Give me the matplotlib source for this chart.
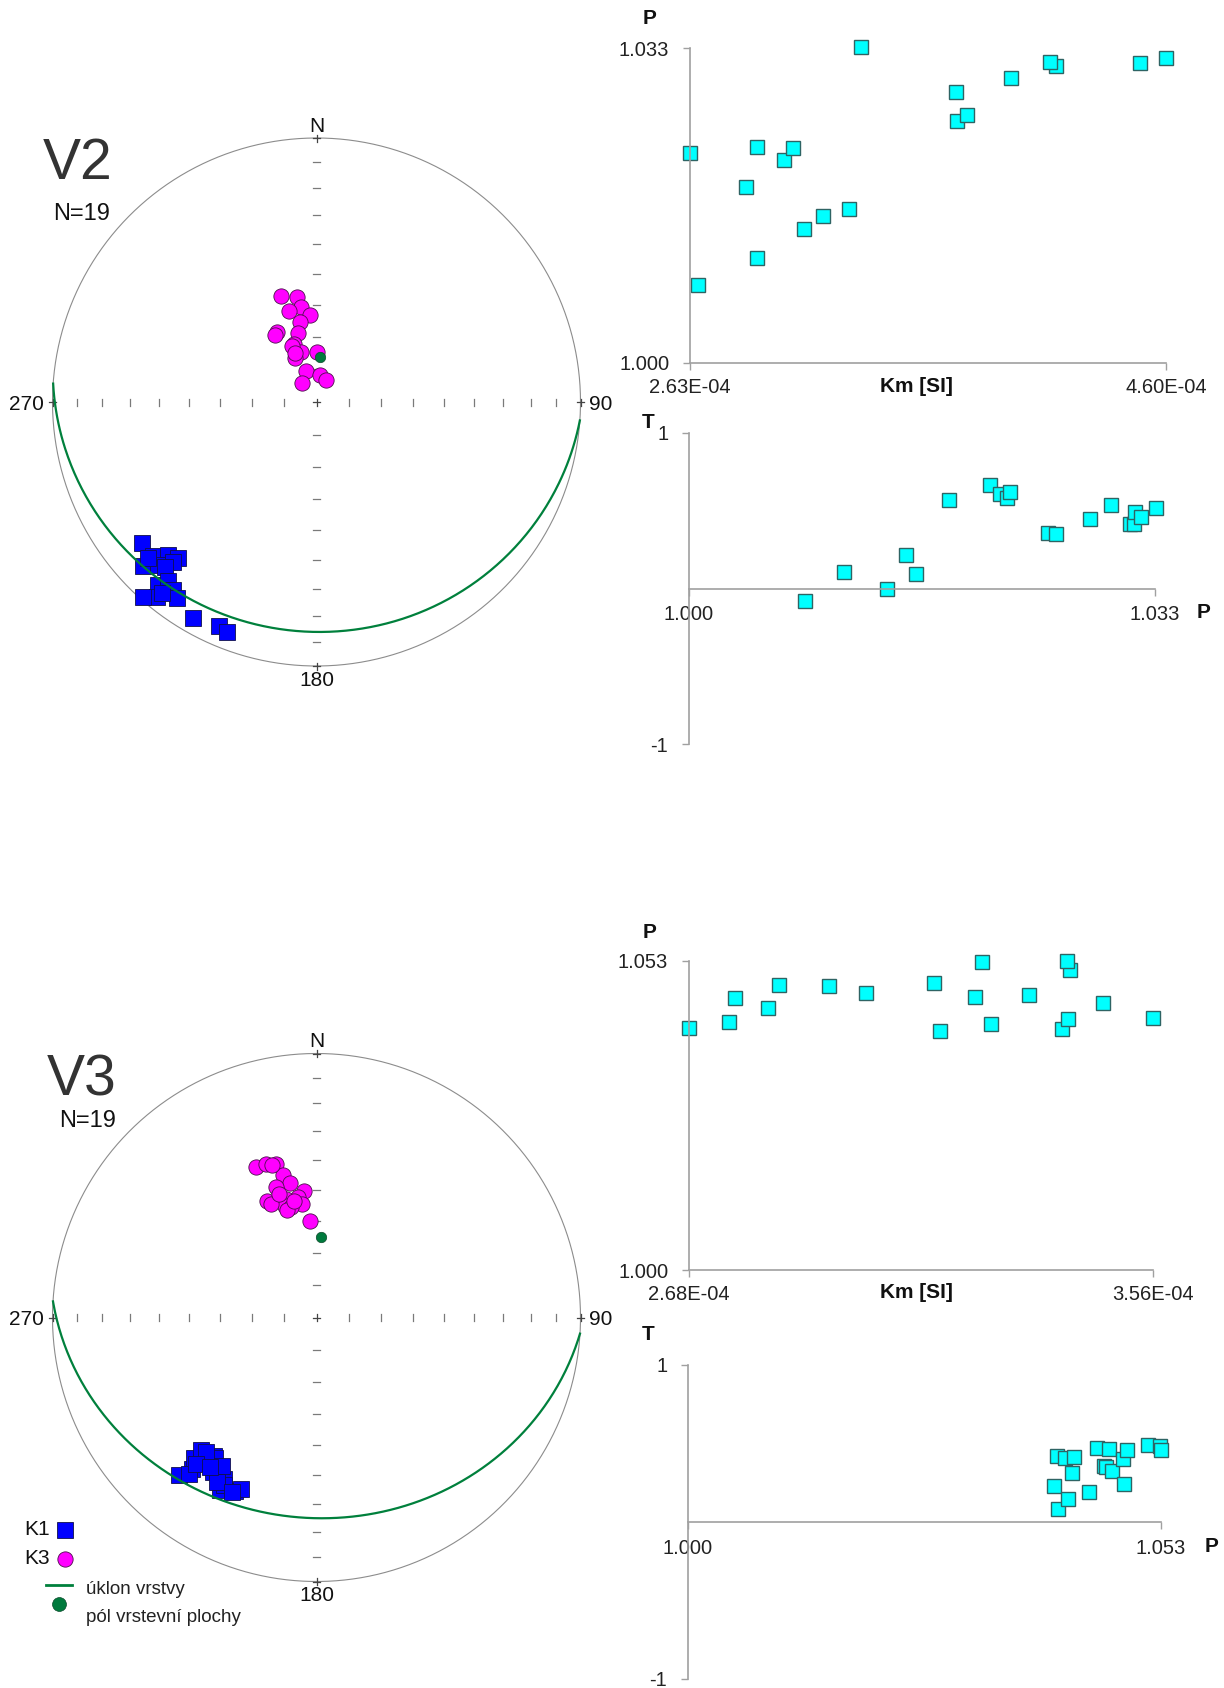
import numpy as np
import matplotlib
matplotlib.use('Agg')
import matplotlib.pyplot as plt

plt.rcParams['font.family'] = ['Liberation Sans', 'DejaVu Sans']

W, H = 1224, 1688

# --- stereonet data: trend / plunge (deg), lower hemisphere ---
v2_k1_trend = [231.2, 226.7, 224.0, 221.5, 226.6, 224.2, 221.9, 222.6, 221.0, 219.7,
               219.4, 221.6, 217.3, 215.4, 209.8, 203.5, 201.3, 227.1, 219.0]
v2_k1_plunge = [16.1, 16.1, 20.4, 22.1, 10.6, 15.1, 19.9, 16.3, 9.1, 13.1,
                5.2, 1.3, 11.5, 10.0, 6.6, 8.3, 7.3, 14.1, 7.6]
v2_k3_trend = [341.7, 349.6, 351.0, 343.1, 356.0, 348.3, 330.7, 328.0, 344.8, 338.6,
               343.0, 334.5, 0.0, 340.8, 8.2, 24.3, 322.4, 336.4, 336.0]
v2_k3_plunge = [55.1, 56.7, 60.0, 60.4, 63.0, 64.6, 65.1, 65.6, 67.9, 70.8,
                73.8, 74.9, 74.6, 79.9, 81.5, 82.7, 82.8, 71.3, 73.6]
v2_bed_dipdir, v2_bed_dip = 184.0, 14.0

v3_k1_trend = [221.0, 219.4, 221.2, 221.2, 216.6, 215.8, 213.9, 209.9, 212.5, 209.1,
               205.1, 203.9, 208.9, 219.3, 219.5, 211.1, 219.6, 205.7, 215.3]
v3_k1_plunge = [21.9, 26.7, 30.1, 33.8, 35.1, 34.5, 30.1, 30.2, 33.9, 26.0,
                28.4, 29.7, 28.2, 24.5, 34.3, 28.0, 28.9, 27.4, 31.1]
v3_k3_trend = [338.0, 341.9, 345.3, 346.7, 348.7, 342.6, 354.4, 337.0, 345.4, 351.4,
               352.5, 344.2, 346.8, 344.6, 356.2, 338.0, 343.0, 349.0, 343.7]
v3_k3_plunge = [38.3, 38.9, 39.6, 43.7, 46.9, 47.0, 50.1, 50.4, 51.6, 51.9,
                54.2, 53.7, 54.7, 55.2, 60.0, 51.6, 49.5, 52.8, 39.8]
v3_bed_dipdir, v3_bed_dip = 183.5, 25.0

# --- scalar data (Km in 1e-4 SI) ---
v2_km = [2.662, 2.908, 3.100, 3.181, 3.287, 2.863, 3.018, 2.632, 3.057, 2.909,
         3.733, 3.775, 3.731, 3.958, 4.144, 4.492, 4.121, 4.600, 3.336]
v2_p = [1.0082, 1.0110, 1.0140, 1.0154, 1.0161, 1.0184, 1.0213, 1.0220, 1.0225, 1.0227,
        1.0254, 1.0260, 1.0284, 1.0299, 1.0312, 1.0315, 1.0316, 1.0320, 1.0331]
v2_t = [-0.082, 0.106, -0.004, 0.218, 0.093, 0.567, 0.668, 0.608, 0.584, 0.621,
        0.358, 0.351, 0.446, 0.537, 0.412, 0.412, 0.489, 0.461, 0.517]

v3_km = [3.156, 3.388, 2.680, 3.253, 2.756, 3.398, 3.560, 2.830, 3.466, 2.767,
         3.223, 3.325, 3.015, 2.946, 2.850, 3.145, 3.402, 3.235, 3.396]
v3_p = [1.0410, 1.0413, 1.0415, 1.0422, 1.0426, 1.0430, 1.0432, 1.0449, 1.0458, 1.0466,
        1.0468, 1.0472, 1.0475, 1.0487, 1.0488, 1.0492, 1.0515, 1.0529, 1.0530]
v3_t = [0.232, 0.420, 0.084, 0.409, 0.148, 0.314, 0.414, 0.188, 0.473, 0.357,
        0.350, 0.466, 0.327, 0.403, 0.245, 0.460, 0.489, 0.485, 0.458]

v2_km_ticks = [2.63e-4, 4.60e-4]
v2_km_labels = ['2.63E-04', '4.60E-04']
v2_p_ticks = [1.000, 1.033]
v2_p_labels = ['1.000', '1.033']
v3_km_ticks = [2.68e-4, 3.56e-4]
v3_km_labels = ['2.68E-04', '3.56E-04']
v3_p_ticks = [1.000, 1.053]
v3_p_labels = ['1.000', '1.053']
t_ticks = [-1, 1]
t_labels = ['-1', '1']

BLUE = '#0000ff'
MAGENTA = '#ff00ff'
GREEN = '#00803c'
CYAN = '#00ffff'
GREY = '#8c8c8c'


def px(x, y):
    return x / W, 1 - y / H


def project(trend, plunge):
    t = np.radians(np.asarray(trend, float))
    p = np.radians(np.asarray(plunge, float))
    r = np.sqrt(2) * np.sin((np.pi / 2 - p) / 2)
    return r * np.sin(t), r * np.cos(t)


def great_circle(dipdir, dip, n=361):
    s = np.radians(dipdir - 90)
    dd = np.radians(dipdir)
    d = np.radians(dip)
    a = np.linspace(0, np.pi, n)
    e = np.cos(a) * np.sin(s) + np.sin(a) * np.sin(dd) * np.cos(d)
    nn = np.cos(a) * np.cos(s) + np.sin(a) * np.cos(dd) * np.cos(d)
    dn = np.sin(a) * np.sin(d)
    trend = np.degrees(np.arctan2(e, nn))
    plunge = np.degrees(np.arcsin(np.clip(dn, -1, 1)))
    return project(trend, plunge)


def stereonet(fig, cx, cy, R, k1, k3, bed):
    a = 1.19
    x0, y0 = px(cx - a * R, cy + a * R)
    ax = fig.add_axes([x0, y0, 2 * a * R / W, 2 * a * R / H])
    ax.set_xlim(-a, a)
    ax.set_ylim(-a, a)
    ax.axis('off')

    th = np.linspace(0, 2 * np.pi, 400)
    ax.plot(np.cos(th), np.sin(th), color=GREY, lw=0.8, zorder=1)

    h = 3.5 / R
    tc = '#7a7a7a'
    for k in range(1, 9):
        rk = np.sqrt(2) * np.sin(np.radians(5 * k))
        for sgn in (-1, 1):
            ax.plot([sgn * rk, sgn * rk], [-h, h], color=tc, lw=0.9, zorder=1)
            ax.plot([-h, h], [sgn * rk, sgn * rk], color=tc, lw=0.9, zorder=1)
    # centre and cardinal crosses
    for (x, y) in [(0, 0), (0, 1), (0, -1), (1, 0), (-1, 0)]:
        ax.plot([x - h, x + h], [y, y], color='#444444', lw=0.9, zorder=1)
        ax.plot([x, x], [y - h, y + h], color='#444444', lw=0.9, zorder=1)

    fs = 15
    ax.text(0, 1.008, 'N', ha='center', va='bottom', fontsize=fs, color='#111111')
    ax.text(-1.032, -0.008, '270', ha='right', va='center', fontsize=fs, color='#111111')
    ax.text(1.032, -0.008, '90', ha='left', va='center', fontsize=fs, color='#111111')
    ax.text(0, -1.018, '180', ha='center', va='top', fontsize=fs, color='#111111')

    x, y = project(*k1)
    ax.plot(x, y, 's', ms=11, mfc=BLUE, mec='#10104a', mew=0.6, ls='none', zorder=3)
    x, y = project(*k3)
    ax.plot(x, y, 'o', ms=11, mfc=MAGENTA, mec='#4a104a', mew=0.6, ls='none', zorder=3)

    dipdir, dip = bed
    gx, gy = great_circle(dipdir, dip)
    ax.plot(gx, gy, color=GREEN, lw=1.6, zorder=4)
    px_, py_ = project(dipdir - 180, 90 - dip)
    ax.plot(px_, py_, 'o', ms=7.5, mfc='#007a3d', mec='#0a4a2a', mew=0.5, zorder=5)
    return ax


def scatter_panel(fig, x0, x1, ytop, ybot, xlim, ylim, xticks, xlabels,
                  yticks, ylabels, xs, ys, zero_axis=False):
    l, b = px(x0, ybot)
    ax = fig.add_axes([l, b, (x1 - x0) / W, (ybot - ytop) / H])
    ax.set_xlim(*xlim)
    ax.set_ylim(*ylim)
    for s in ('top', 'right'):
        ax.spines[s].set_visible(False)
    for s in ('left', 'bottom'):
        ax.spines[s].set_color('#a0a0a0')
        ax.spines[s].set_linewidth(1.2)
    if zero_axis:
        ax.spines['bottom'].set_position(('data', 0))
    ax.set_xticks(xticks)
    ax.set_xticklabels(xlabels)
    ax.set_yticks(yticks)
    ax.set_yticklabels(ylabels)
    ax.tick_params(axis='both', direction='out', length=5, width=1, color='#a0a0a0',
                   labelsize=14.5, labelcolor='#222222')
    ax.tick_params(axis='y', pad=10)
    ax.tick_params(axis='x', pad=6 if not zero_axis else 7)
    ax.patch.set_visible(False)
    ax.plot(xs, ys, 's', ms=10.5, mfc=CYAN, mec='#2e6464', mew=1.0, ls='none', clip_on=False)
    return ax


fig = plt.figure(figsize=(W / 100, H / 100), dpi=100)
bold = dict(fontsize=15, fontweight='bold', ha='center', va='center', color='#111111')

# ---------------- V2 ----------------
stereonet(fig, 316.5, 402, 264, (v2_k1_trend, v2_k1_plunge), (v2_k3_trend, v2_k3_plunge),
          (v2_bed_dipdir, v2_bed_dip))
fig.text(*px(43, 179), 'V2', fontsize=41, color='#333333', ha='left', va='baseline')
fig.text(*px(53, 220), 'N=19', fontsize=17, color='#111111', ha='left', va='baseline')

scatter_panel(fig, 690, 1166, 48.4, 362.8, (2.63e-4, 4.60e-4), (1.000, 1.033),
              v2_km_ticks, v2_km_labels, v2_p_ticks, v2_p_labels,
              np.array(v2_km) * 1e-4, v2_p)
fig.text(*px(650, 19), 'P', **bold)
fig.text(*px(916, 387), 'Km [SI]', **bold)

scatter_panel(fig, 689, 1155, 433, 744, (1.000, 1.033), (-1, 1),
              v2_p_ticks, v2_p_labels, t_ticks, t_labels, v2_p, v2_t, zero_axis=True)
fig.text(*px(648, 422), 'T', **bold)
fig.text(*px(1204, 612), 'P', **bold)

# ---------------- V3 ----------------
stereonet(fig, 316.5, 1317.5, 264, (v3_k1_trend, v3_k1_plunge), (v3_k3_trend, v3_k3_plunge),
          (v3_bed_dipdir, v3_bed_dip))
fig.text(*px(47, 1095), 'V3', fontsize=41, color='#333333', ha='left', va='baseline')
fig.text(*px(59, 1127), 'N=19', fontsize=17, color='#111111', ha='left', va='baseline')

scatter_panel(fig, 689, 1153, 961, 1270, (2.68e-4, 3.56e-4), (1.000, 1.053),
              v3_km_ticks, v3_km_labels, v3_p_ticks, v3_p_labels,
              np.array(v3_km) * 1e-4, v3_p)
fig.text(*px(650, 932), 'P', **bold)
fig.text(*px(916, 1292), 'Km [SI]', **bold)

scatter_panel(fig, 688, 1161, 1365, 1679, (1.000, 1.053), (-1, 1),
              v3_p_ticks, v3_p_labels, t_ticks, t_labels, v3_p, v3_t, zero_axis=True)
fig.text(*px(648, 1335), 'T', **bold)
fig.text(*px(1212, 1547), 'P', **bold)

# ---------------- legend (bottom left) ----------------
lax = fig.add_axes([0, 0, 1, 1])
lax.set_xlim(0, W)
lax.set_ylim(H, 0)
lax.axis('off')
lax.plot([64.6], [1529.5], 's', ms=11, mfc=BLUE, mec='#10104a', mew=0.6)
lax.plot([64.6], [1558.5], 'o', ms=11, mfc=MAGENTA, mec='#4a104a', mew=0.6)
lax.plot([46, 72], [1585, 1585], color=GREEN, lw=2)
lax.plot([59], [1604], 'o', ms=10, mfc='#007a3d', mec='#0a4a2a', mew=0.5)
lax.text(24, 1529.5, 'K1', fontsize=15, va='center', ha='left', color='#111111')
lax.text(24, 1558.5, 'K3', fontsize=15, va='center', ha='left', color='#111111')
lax.text(86, 1590, 'úklon vrstvy', fontsize=13.5, va='center', ha='left', color='#222222')
lax.text(86, 1618, 'pól vrstevní plochy', fontsize=13.5, va='center', ha='left', color='#222222')

fig.savefig('out.png', dpi=100)
